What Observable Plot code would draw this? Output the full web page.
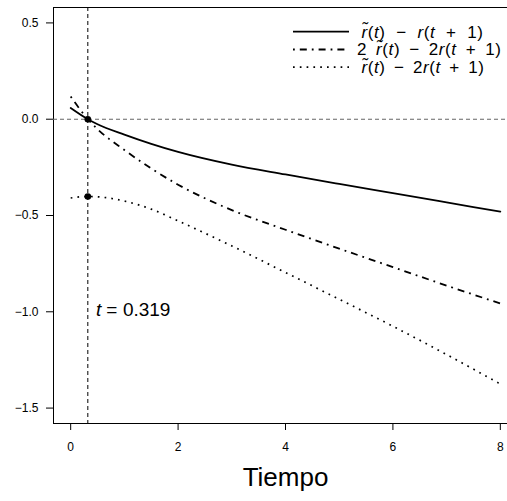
<!DOCTYPE html>
<html>
<head>
<meta charset="utf-8">
<script src="https://cdn.jsdelivr.net/npm/d3@7"></script>
<script src="https://cdn.jsdelivr.net/npm/@observablehq/plot@0.6"></script>
<style>
  html, body { margin: 0; padding: 0; background: #fff; }
  #chart svg { display: block; }
</style>
</head>
<body>
<div id="chart"></div>
<script>
// ---- data ----
const tiempo = [0, 0.319, 0.5, 1, 1.5, 2, 3, 4, 5, 6, 7, 8];
const serieA = [0.058, 0, -0.026, -0.080, -0.128, -0.170, -0.236, -0.287, -0.336, -0.384, -0.432, -0.480];   // r~(t) - r(t+1)
const serieB = [0.118, 0, -0.052, -0.160, -0.256, -0.340, -0.472, -0.574, -0.672, -0.768, -0.864, -0.957];   // 2r~(t) - 2r(t+1)
const serieC = [-0.409, -0.401, -0.403, -0.425, -0.467, -0.528, -0.658, -0.796, -0.935, -1.075, -1.222, -1.375]; // r~(t) - 2r(t+1)
const tCorte = 0.319;
const puntosY = [0, -0.401];
const xTicks = [0, 2, 4, 6, 8];
const yTicks = [-1.5, -1.0, -0.5, 0.0, 0.5];
const etiquetaX = "Tiempo";

const font = "'Liberation Sans', Arial, Helvetica, sans-serif";
const toRows = (ys) => tiempo.map((t, i) => ({t, v: ys[i]}));

const plot = Plot.plot({
  width: 507,
  height: 501,
  marginLeft: 53,
  marginRight: -10,
  marginTop: 7,
  marginBottom: 78,
  style: {fontFamily: font, fontSize: "12px", color: "black", background: "white"},
  x: {domain: [-0.32, 8.32]},
  y: {domain: [-1.58, 0.58]},
  marks: [
    Plot.frame({stroke: "black", strokeWidth: 1}),
    Plot.ruleY([0], {stroke: "#666", strokeWidth: 1.1, strokeDasharray: "4,3"}),
    Plot.ruleX([tCorte], {stroke: "black", strokeWidth: 1, strokeDasharray: "4,3"}),
    Plot.line(toRows(serieA), {x: "t", y: "v", curve: "monotone-x", stroke: "black", strokeWidth: 1.8}),
    Plot.line(toRows(serieB), {x: "t", y: "v", curve: "monotone-x", stroke: "black", strokeWidth: 1.8, strokeDasharray: "1.8,5,7,5", strokeLinecap: "butt"}),
    Plot.line(toRows(serieC), {x: "t", y: "v", curve: "monotone-x", stroke: "black", strokeWidth: 1.7, strokeDasharray: "1.7,5.1", strokeLinecap: "butt"}),
    Plot.dot(puntosY, {x: () => tCorte, y: d => d, r: 3.3, fill: "black", stroke: "none"}),
    Plot.axisX(xTicks, {tickSize: 7, tickPadding: 12, label: null, fontSize: 12}),
    Plot.axisY(yTicks, {tickSize: 7, tickPadding: 8, label: null, tickFormat: d3.format(".1f"), fontSize: 12}),
    Plot.text([etiquetaX], {frameAnchor: "bottom", dy: 62, fontSize: 26, text: d => d, fill: "black"})
  ]
});

document.getElementById("chart").appendChild(plot);

// ---- legend ----
const svg = d3.select(plot);
const leg = svg.append("g").attr("font-family", font).attr("font-size", 17).attr("fill", "black")
  .attr("text-anchor", "start");
const legRows = [
  {y: 31.7, dash: null, w: 1.8, x: 361.5, target: 122.5,
   parts: [["r\u0303", 1], ["(", 0], ["t", 1], [") \u2212 ", 0], ["r", 1], ["(", 0], ["t", 1], [" + 1)", 0]]},
  {y: 49.5, dash: "1.8,5,7,5", w: 1.8, x: 357, target: 144.5,
   parts: [["2 ", 0], ["r\u0303", 1], ["(", 0], ["t", 1], [") \u2212 2", 0], ["r", 1], ["(", 0], ["t", 1], [" + 1)", 0]]},
  {y: 67.2, dash: "1.7,5.1", w: 1.7, x: 361.5, target: 123.5,
   parts: [["r\u0303", 1], ["(", 0], ["t", 1], [") \u2212 2", 0], ["r", 1], ["(", 0], ["t", 1], [" + 1)", 0]]}
];
legRows.forEach(row => {
  const ln = leg.append("line")
    .attr("x1", 293).attr("x2", 349).attr("y1", row.y).attr("y2", row.y)
    .attr("stroke", "black").attr("stroke-width", row.w);
  if (row.dash) ln.attr("stroke-dasharray", row.dash);
  const tx = leg.append("text").attr("text-anchor", "start").attr("x", row.x).attr("y", row.y)
    .attr("dy", "0.35em").attr("letter-spacing", 0.6);
  row.parts.forEach(([s, it]) => {
    const sp = tx.append("tspan").text(s);
    if (it) sp.attr("font-style", "italic");
  });
  const full = row.parts.map(p => p[0]).join("");
  const nSpaces = (full.match(/ /g) || []).length;
  const w0 = tx.node().getBBox().width;
  tx.attr("word-spacing", Math.max(0, (row.target - w0) / nSpaces));
});

// annotation t = 0.319
const ann = svg.append("text").attr("font-family", font).attr("font-size", 19).attr("fill", "black")
  .attr("text-anchor", "start").attr("x", 96).attr("y", 316);
ann.append("tspan").attr("font-style", "italic").text("t");
ann.append("tspan").attr("dx", 5).text("=");
ann.append("tspan").attr("dx", 5.5).text(tCorte.toFixed(3));
</script>
</body>
</html>
